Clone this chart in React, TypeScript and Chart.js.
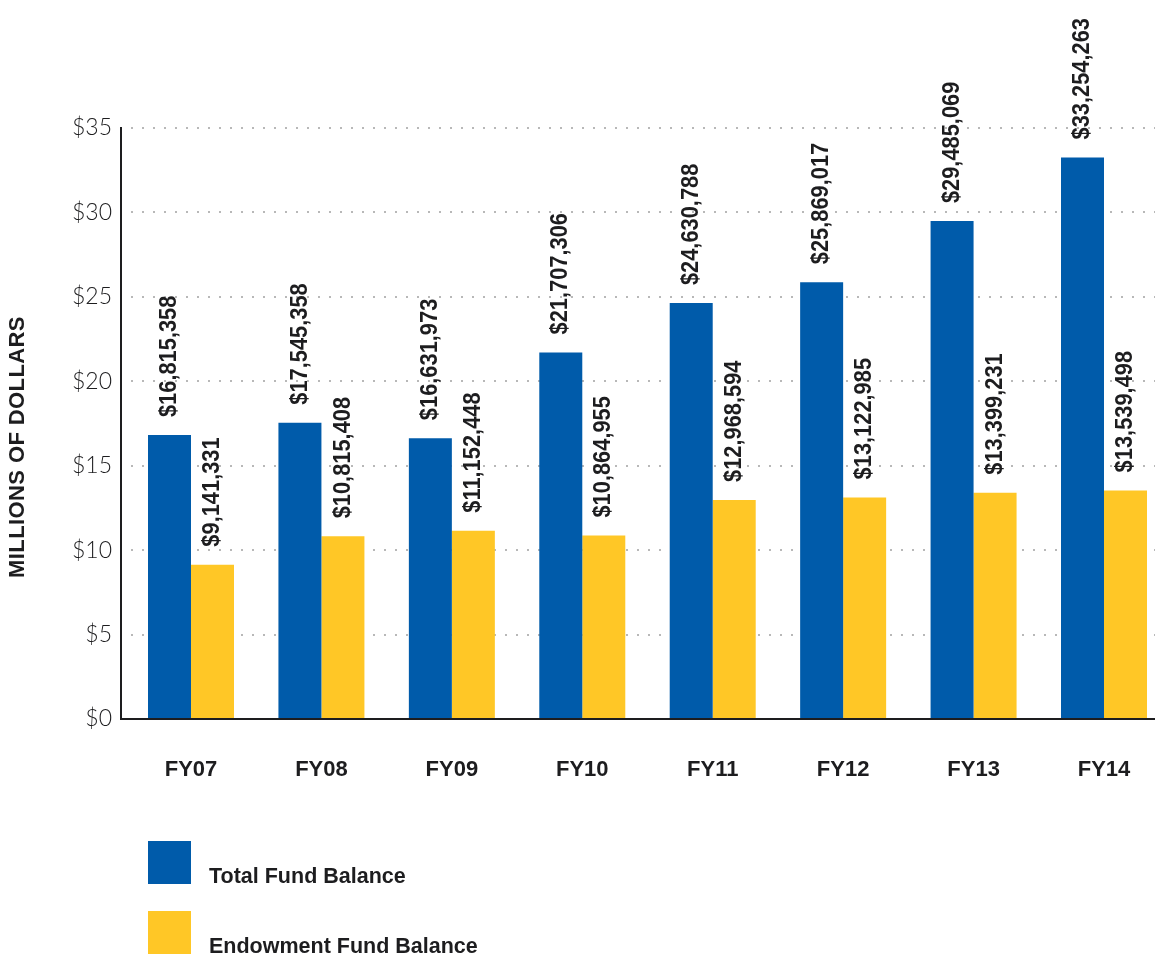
import React, { useEffect, useRef } from "react";
import { Chart, registerables } from "chart.js";

Chart.register(...registerables);

const categories = ["FY07", "FY08", "FY09", "FY10", "FY11", "FY12", "FY13", "FY14"];
const totalFund = [16815358, 17545358, 16631973, 21707306, 24630788, 25869017, 29485069, 33254263];
const endowmentFund = [9141331, 10815408, 11152448, 10864955, 12968594, 13122985, 13399231, 13539498];
const seriesNames = ["Total Fund Balance", "Endowment Fund Balance"];
const seriesColors = ["#005BAA", "#FFC726"];
const yTickValues = [0, 5, 10, 15, 20, 25, 30, 35];
const yTitle = "MILLIONS OF DOLLARS";

const seriesRaw = [totalFund, endowmentFund];
const TEXT = "#1d1d1f";
const FONT = "'Liberation Sans', Arial, sans-serif";

const toPoints = (arr: number[]) => arr.map((v, i) => ({ x: i, y: v / 1e6 }));

const valueLabels = {
  id: "valueLabels",
  afterDatasetsDraw(chart: any) {
    const ctx = chart.ctx;
    chart.data.datasets.forEach((_ds: any, di: number) => {
      const meta = chart.getDatasetMeta(di);
      meta.data.forEach((el: any, i: number) => {
        const text = "$" + seriesRaw[di][i].toLocaleString("en-US");
        ctx.save();
        ctx.translate(el.x, el.y - 18);
        ctx.rotate(-Math.PI / 2);
        ctx.scale(0.91, 1);
        ctx.font = `bold 24px ${FONT}`;
        ctx.fillStyle = TEXT;
        ctx.textAlign = "left";
        ctx.textBaseline = "middle";
        ctx.fillText(text, 0, 0);
        ctx.restore();
      });
    });
  },
};

const titleAndLegend = {
  id: "titleAndLegend",
  afterDraw(chart: any) {
    const ctx = chart.ctx;
    // y-axis title
    ctx.save();
    ctx.translate(18, 447);
    ctx.rotate(-Math.PI / 2);
    ctx.font = `bold 22px ${FONT}`;
    (ctx as any).letterSpacing = "0.4px";
    ctx.fillStyle = TEXT;
    ctx.textAlign = "center";
    ctx.textBaseline = "middle";
    ctx.fillText(yTitle, 0, 0);
    ctx.restore();
    // legend
    const tops = [841, 911];
    const baselines = [883, 953];
    chart.data.datasets.forEach((ds: any, di: number) => {
      ctx.save();
      ctx.fillStyle = ds.backgroundColor;
      ctx.fillRect(148, tops[di], 43, 43);
      ctx.font = `bold 21.5px ${FONT}`;
      ctx.fillStyle = TEXT;
      ctx.textAlign = "left";
      ctx.textBaseline = "alphabetic";
      ctx.fillText(ds.label, 209, baselines[di]);
      ctx.restore();
    });
  },
};

// category spacing so that FY07 sits at x=191 and FY14 at x=1104 with the axis at x=121
const PX_PER_CAT = (1104 - 191) / 7;
const xMin = -(191 - 121) / PX_PER_CAT;
const xMax = (1155 - 191) / PX_PER_CAT;

export default function App() {
  const ref = useRef<HTMLCanvasElement>(null);
  useEffect(() => {
    const chart = new Chart(ref.current as HTMLCanvasElement, {
      type: "bar",
      data: {
        datasets: [
          {
            label: seriesNames[0],
            data: toPoints(totalFund) as any,
            backgroundColor: seriesColors[0],
            barPercentage: 1,
            categoryPercentage: 86 / PX_PER_CAT,
          },
          {
            label: seriesNames[1],
            data: toPoints(endowmentFund) as any,
            backgroundColor: seriesColors[1],
            barPercentage: 1,
            categoryPercentage: 86 / PX_PER_CAT,
          },
        ],
      },
      options: {
        responsive: false,
        animation: false,
        devicePixelRatio: 1,
        layout: { padding: { top: 128, left: 0, right: 0, bottom: 0 } },
        plugins: { legend: { display: false }, tooltip: { enabled: false } },
        scales: {
          x: {
            type: "linear",
            offset: false,
            min: xMin,
            max: xMax,
            grid: { display: true, drawOnChartArea: false, drawTicks: false },
            border: { display: true, color: TEXT, width: 2 },
            ticks: {
              stepSize: 1,
              includeBounds: false,
              autoSkip: false,
              maxRotation: 0,
              minRotation: 0,
              padding: 38,
              color: TEXT,
              font: { family: FONT, size: 22, weight: "bold" },
              callback: (v: any) => (Number.isInteger(v) ? categories[v] ?? "" : ""),
            },
            afterFit: (s: any) => {
              s.height = 239;
              s.paddingLeft = 0;
              s.paddingRight = 0;
            },
          } as any,
          y: {
            min: 0,
            max: 35,
            afterBuildTicks: (s: any) => {
              s.ticks = yTickValues.map((v) => ({ value: v }));
            },
            grid: {
              color: "#b8b8b8",
              lineWidth: 2,
              drawTicks: false,
            } as any,
            border: { display: true, color: TEXT, width: 2, dash: [2, 9], dashOffset: 2 } as any,
            ticks: {
              padding: 9,
              color: TEXT,
              font: { family: "Lato, 'Open Sans', sans-serif", size: 23, weight: "300" as any },
              callback: (v: any) => "$" + v,
            },
            afterFit: (s: any) => {
              s.width = 121;
            },
          } as any,
        },
      },
      plugins: [valueLabels, titleAndLegend],
    });
    return () => chart.destroy();
  }, []);
  return (
    <div style={{ position: "fixed", left: 0, top: 0, width: 1155, height: 958, background: "#fff" }}>
      <canvas ref={ref} width={1155} height={958} />
    </div>
  );
}
